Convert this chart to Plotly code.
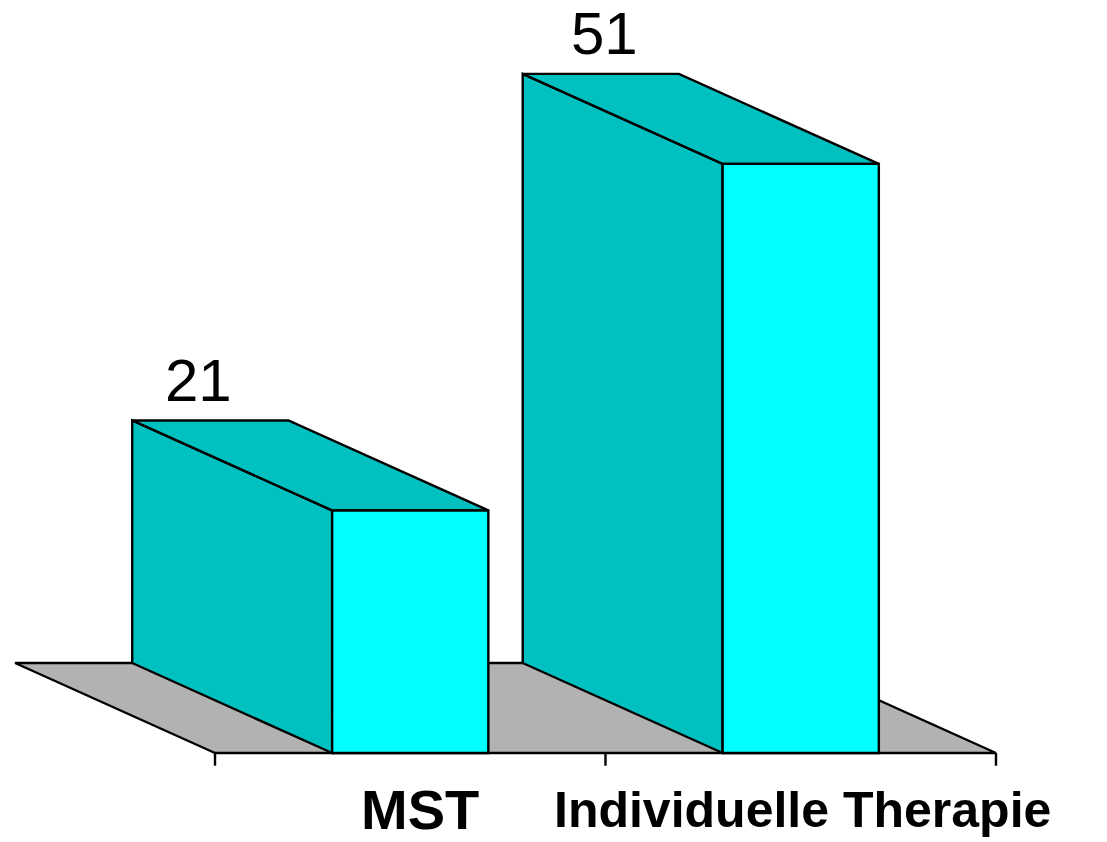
import plotly.graph_objects as go

# Data
categories = ["MST", "Individuelle Therapie"]
values = [21, 51]

# Styling / geometry of the pseudo-3D bars
FLOOR = "#b2b2b2"
SIDE = "#00c0c0"
FRONT = "#00ffff"
EDGE = "#000000"

BAR_W = 0.4      # width of front face, in category slots
DEPTH_X = 0.512  # oblique depth, horizontal component (slots)
DEPTH_Y = 7.79   # oblique depth, vertical component (value units)
TICK_LEN = 1.1   # tick length below the floor (value units)

fig = go.Figure()


def face(xs, ys, color):
    fig.add_trace(go.Scatter(
        x=xs + [xs[0]], y=ys + [ys[0]], mode="lines",
        fill="toself", fillcolor=color,
        line=dict(color=EDGE, width=2.4),
        hoverinfo="skip", showlegend=False,
    ))


n = len(categories)

# Floor parallelogram
face([0, n, n - DEPTH_X, -DEPTH_X], [0, 0, DEPTH_Y, DEPTH_Y], FLOOR)

# Category ticks under the floor
for t in range(n + 1):
    fig.add_trace(go.Scatter(
        x=[t, t], y=[0, -TICK_LEN], mode="lines",
        line=dict(color=EDGE, width=2.4),
        hoverinfo="skip", showlegend=False,
    ))

# Bars: side face, top face, front face
for i, v in enumerate(values):
    x0 = i + 0.5 - BAR_W / 2
    x1 = x0 + BAR_W
    face([x0 - DEPTH_X, x0, x0, x0 - DEPTH_X],
         [DEPTH_Y, 0, v, v + DEPTH_Y], SIDE)
    face([x0 - DEPTH_X, x1 - DEPTH_X, x1, x0],
         [v + DEPTH_Y, v + DEPTH_Y, v, v], SIDE)
    face([x0, x1, x1, x0], [0, 0, v, v], FRONT)

    # value label above the bar
    fig.add_annotation(
        x=i + 0.5 - DEPTH_X, y=v + DEPTH_Y, text=str(v),
        showarrow=False, yanchor="middle", yshift=40,
        xshift=-12 if i == 0 else 4,
        font=dict(family="Liberation Sans", size=60, color="#000000"),
    )

    # category label under the bar
    fig.add_annotation(
        x=i + 0.5, y=0, text="<b>%s</b>" % categories[i],
        showarrow=False, yanchor="middle", yshift=-57,
        xshift=10 if i == 0 else 2,
        font=dict(family="Liberation Sans",
                  size=56 if i == 0 else 50, color="#000000"),
    )

fig.update_layout(
    width=1107, height=842,
    margin=dict(l=0, r=0, t=0, b=0),
    paper_bgcolor="white", plot_bgcolor="white",
    xaxis=dict(range=[-0.5506, 2.2843], visible=False, fixedrange=True),
    yaxis=dict(range=[-7.706, 65.19], visible=False, fixedrange=True),
    showlegend=False,
)

fig.write_html("out.html")
